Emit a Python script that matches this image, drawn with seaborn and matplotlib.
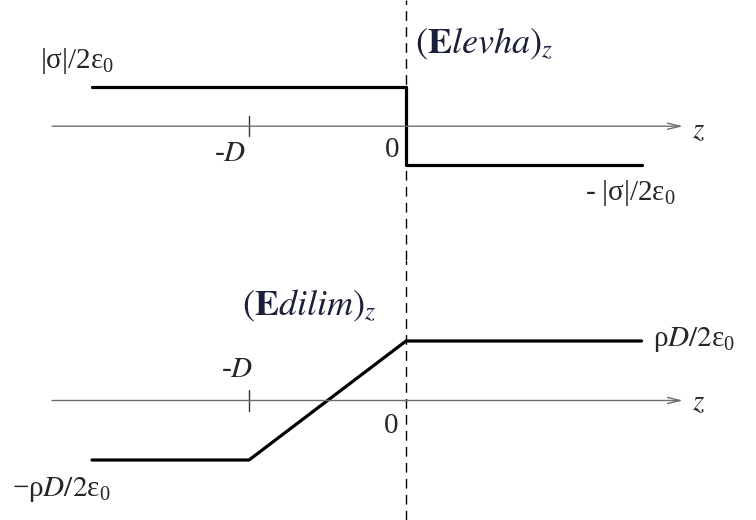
import matplotlib
matplotlib.use("Agg")
import matplotlib.pyplot as plt
import seaborn as sns
import pandas as pd

# Field profiles along z (z in units of D, field in units of the plateau value)
z_plate = [-2.0, 0.0, 0.0, 1.5]
E_plate = [1.0, 1.0, -1.0, -1.0]

z_slab = [-2.0, -1.0, 0.0, 1.5]
E_slab = [-1.0, -1.0, 1.0, 1.0]

tick_z = -1.0

sns.set_style("white")
plt.rcParams["font.family"] = ["Liberation Serif", "DejaVu Serif"]
plt.rcParams["mathtext.fontset"] = "stix"

fig = plt.figure(figsize=(7.56, 5.2), dpi=100)
ax_top = fig.add_axes([0, 0.5, 1, 0.5])
ax_bot = fig.add_axes([0, 0.0, 1, 0.5])

XLIM = (-2.586, 2.229)
AXIS_LEFT, AXIS_TIP = -2.255, 1.764

def frame(ax, ylim, tick_half):
    ax.set_xlim(*XLIM)
    ax.set_ylim(*ylim)
    ax.axis("off")
    # z axis with arrow head
    ax.annotate("", xy=(AXIS_TIP, 0), xytext=(AXIS_LEFT, 0),
                arrowprops=dict(arrowstyle="->,head_length=0.9,head_width=0.22",
                                color="#6e6e6e", lw=1.0, shrinkA=0, shrinkB=0))
    ax.plot([tick_z, tick_z], [-tick_half, tick_half], color="#333333", lw=1.0)
    ax.axvline(0, color="black", lw=1.0, dashes=(7, 4.5))

frame(ax_top, (-3.43, 3.236), 0.25)
frame(ax_bot, (-2.008, 2.361), 0.18)

sns.lineplot(data=pd.DataFrame({"z": z_plate, "E": E_plate}), x="z", y="E",
             sort=False, estimator=None, color="black", lw=2.3, ax=ax_top)
sns.lineplot(data=pd.DataFrame({"z": z_slab, "E": E_slab}), x="z", y="E",
             sort=False, estimator=None, color="black", lw=2.3, ax=ax_bot)

fs = 21
fs_title = 26
ink = "#1c1f3a"
# sheet (levha) panel labels
ax_top.text(-2.33, 1.68, r"$\mathregular{|σ|/2ε_0}$", fontsize=fs, ha="left", va="center")
ax_top.text(1.14, -1.71, r"- $\mathregular{|σ|/2ε_0}$", fontsize=fs, ha="left", va="center")
ax_top.text(0.057, 2.1, r"$(\mathbf{E}\mathit{levha})_z$", fontsize=fs_title,
            ha="left", va="center", color=ink)
ax_top.text(-1.12, -0.72, r"-$D$", fontsize=fs, ha="center", va="center")
ax_top.text(-0.089, -0.62, "0", fontsize=fs, ha="center", va="center")
ax_top.text(1.86, -0.12, r"$z$", fontsize=fs, ha="center", va="center")

# slab (dilim) panel labels
ax_bot.text(-1.045, 1.59, r"$(\mathbf{E}\mathit{dilim})_z$", fontsize=fs_title,
            ha="left", va="center", color=ink)
ax_bot.text(1.573, 1.03, r"$\mathregular{ρ}D/2\mathregular{ε_0}$", fontsize=fs, ha="left", va="center")
ax_bot.text(-2.51, -1.50, r"$\mathregular{-ρ}D/2\mathregular{ε_0}$", fontsize=fs, ha="left", va="center")
ax_bot.text(-1.076, 0.52, r"-$D$", fontsize=fs, ha="center", va="center")
ax_bot.text(-0.096, -0.43, "0", fontsize=fs, ha="center", va="center")
ax_bot.text(1.86, -0.05, r"$z$", fontsize=fs, ha="center", va="center")

fig.savefig("out.png", dpi=100, facecolor="white")
